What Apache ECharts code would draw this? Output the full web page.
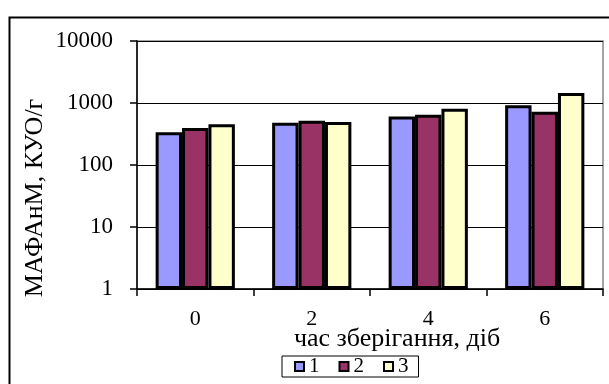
<!DOCTYPE html>
<html><head><meta charset="utf-8">
<script src="https://cdn.jsdelivr.net/npm/echarts@6/dist/echarts.min.js"></script>
<style>html,body{margin:0;padding:0;background:#fff}#c{width:609px;height:384px}</style>
</head><body><div id="c"></div>
<script>
const categories = ['0', '2', '4', '6'];
const series1 = [337, 482, 603, 916];
const series2 = [396, 519, 649, 725];
const series3 = [453, 494, 809, 1446];
const seriesNames = ['1', '2', '3'];
const yTitle = 'МАФАнМ, КУО/г';
const xTitle = 'час зберігання, діб';

const font = 'Liberation Serif, Times New Roman, serif';
const chart = echarts.init(document.getElementById('c'), null, {renderer: 'canvas'});
const colors = ['#9999ff', '#993366', '#ffffcc'];
const data = [series1, series2, series3];
chart.setOption({
  animation: false,
  backgroundColor: '#fff',
  graphic: [{
    type: 'rect', left: 7, top: 15, shape: {width: 640, height: 420},
    style: {fill: 'none', stroke: '#000', lineWidth: 2}, z: 100, silent: true
  }, {
    type: 'text', x: 35, y: 198, rotation: Math.PI / 2,
    style: {text: yTitle, font: '26px ' + font, fill: '#000', align: 'center', verticalAlign: 'middle'}
  }, {
    type: 'text', x: 397, y: 339,
    style: {text: xTitle, font: '26px ' + font, fill: '#000', align: 'center', verticalAlign: 'middle'}
  }],
  grid: {left: 137, right: 6, top: 41, bottom: 95, show: true, borderColor: '#888', borderWidth: 1.5},
  legend: {
    data: seriesNames, left: 282, top: 356,
    icon: 'rect', itemWidth: 9, itemHeight: 9, itemGap: 19,
    padding: [0, 10, 0, 12],
    borderColor: '#000', borderWidth: 1,
    itemStyle: {borderColor: '#000', borderWidth: 2},
    textStyle: {fontFamily: font, fontSize: 21, color: '#000', lineHeight: 21}
  },
  xAxis: {
    type: 'category', data: categories,
    axisLine: {lineStyle: {color: '#000', width: 1.5}},
    axisTick: {show: true, length: 7, lineStyle: {color: '#000', width: 1.5}},
    axisLabel: {fontFamily: font, fontSize: 22, color: '#000', margin: 19}
  },
  yAxis: {
    type: 'log', logBase: 10, min: 1, max: 10000,
    axisLine: {show: true, lineStyle: {color: '#000', width: 1.5}},
    axisTick: {show: true, length: 7, lineStyle: {color: '#000', width: 1.5}},
    axisLabel: {fontFamily: font, fontSize: 23, color: '#000', margin: 24,
      formatter: v => String(Math.round(v))},
    splitLine: {show: true, lineStyle: {color: '#000', width: 1.2}}
  },
  series: data.map((d, i) => ({
    type: 'bar', name: seriesNames[i], data: d,
    barGap: '0%', barCategoryGap: '32%',
    itemStyle: {color: colors[i], borderColor: '#000', borderWidth: 3}
  }))
});
</script></body></html>
